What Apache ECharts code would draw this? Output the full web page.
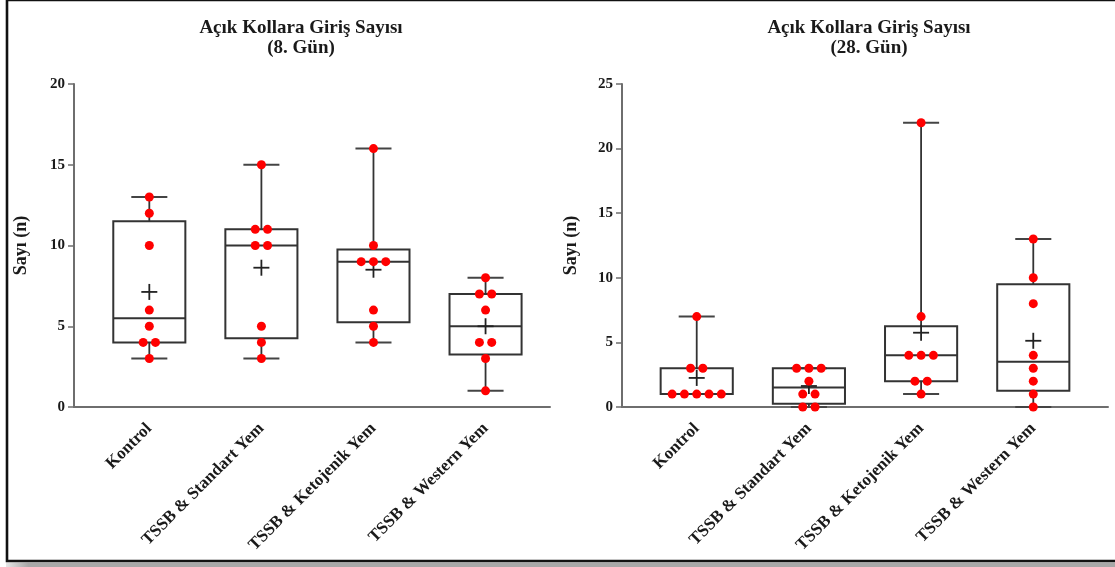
<!DOCTYPE html>
<html>
<head>
<meta charset="utf-8">
<script src="https://cdn.jsdelivr.net/npm/echarts@6/dist/echarts.min.js"></script>
<style>
  html, body { margin: 0; padding: 0; background: #fff; }
  #chart { width: 1115px; height: 567px; }
</style>
</head>
<body>
<div id="chart"></div>
<script>
// Groups shown on both panels
const categories = ['Kontrol', 'TSSB & Standart Yem', 'TSSB & Ketojenik Yem', 'TSSB & Western Yem'];

// Day 8: individual counts per group
const gun8Points = [
  [13, 12, 10, 6, 5, 4, 4, 3],
  [15, 11, 11, 10, 10, 5, 4, 3],
  [16, 10, 9, 9, 9, 6, 5, 4],
  [8, 7, 7, 6, 4, 4, 3, 1]
];
// Day 8: [min, Q1, median, Q3, max]
const gun8Box = [
  [3, 4, 5.5, 11.5, 13],
  [3, 4.25, 10, 11, 15],
  [4, 5.25, 9, 9.75, 16],
  [1, 3.25, 5, 7, 8]
];
const gun8Mean = [7.125, 8.625, 8.5, 5];

// Day 28: individual counts per group
const gun28Points = [
  [7, 3, 3, 1, 1, 1, 1, 1],
  [3, 3, 3, 2, 1, 1, 0, 0],
  [22, 7, 4, 4, 4, 2, 2, 1],
  [13, 10, 8, 4, 3, 2, 1, 0]
];
// Day 28: [min, Q1, median, Q3, max]
const gun28Box = [
  [1, 1, 1, 3, 7],
  [0, 0.25, 1.5, 3, 3],
  [1, 2, 4, 6.25, 22],
  [0, 1.25, 3.5, 9.5, 13]
];
const gun28Mean = [2.25, 1.625, 5.75, 5.125];

// Axis tick values
const yTicks8 = { min: 0, max: 20, interval: 5 };
const yTicks28 = { min: 0, max: 25, interval: 5 };

const FONT = "'Liberation Serif', 'Times New Roman', serif";
const INK = '#1a1a1a';
const LINE = '#333';
const AXIS = '#6e6e6e';
const DOT_GAP = 12.3;

function boxData(box, mean) {
  return box.map((b, i) => [i, b[0], b[1], b[2], b[3], b[4], mean[i]]);
}

// Dots sharing a value are spread side by side around the group centre
function pointData(points) {
  const out = [];
  points.forEach((vals, gi) => {
    const counts = {};
    vals.forEach(v => { counts[v] = (counts[v] || 0) + 1; });
    const seen = {};
    vals.forEach(v => {
      const k = seen[v] || 0;
      seen[v] = k + 1;
      out.push([gi, v, (k - (counts[v] - 1) / 2) * DOT_GAP]);
    });
  });
  return out;
}

function renderBox(params, api) {
  const x = api.value(0);
  const band = api.size([1, 0])[0];
  const bw = band * 0.643;
  const cap = bw * 0.5;
  const pMin = api.coord([x, api.value(1)]);
  const pQ1 = api.coord([x, api.value(2)]);
  const pMed = api.coord([x, api.value(3)]);
  const pQ3 = api.coord([x, api.value(4)]);
  const pMax = api.coord([x, api.value(5)]);
  const pMean = api.coord([x, api.value(6)]);
  const cx = pMed[0];
  const st = { stroke: LINE, lineWidth: 1.8, fill: null };
  const ln = (x1, y1, x2, y2, style) => ({
    type: 'line', shape: { x1, y1, x2, y2 }, style: style || st
  });
  const pm = 8;
  return {
    type: 'group',
    children: [
      ln(cx, pMax[1], cx, pQ3[1]),
      ln(cx, pQ1[1], cx, pMin[1]),
      ln(cx - cap / 2, pMax[1], cx + cap / 2, pMax[1], { stroke: '#444', lineWidth: 2 }),
      ln(cx - cap / 2, pMin[1], cx + cap / 2, pMin[1], { stroke: '#444', lineWidth: 2 }),
      {
        type: 'rect',
        shape: { x: cx - bw / 2, y: pQ3[1], width: bw, height: pQ1[1] - pQ3[1] },
        style: { stroke: LINE, lineWidth: 2, fill: null }
      },
      ln(cx - bw / 2, pMed[1], cx + bw / 2, pMed[1], { stroke: LINE, lineWidth: 2 }),
      ln(pMean[0] - pm, pMean[1], pMean[0] + pm, pMean[1], { stroke: '#222', lineWidth: 1.8 }),
      ln(pMean[0], pMean[1] - pm, pMean[0], pMean[1] + pm, { stroke: '#222', lineWidth: 1.8 })
    ]
  };
}

function renderDot(params, api) {
  const p = api.coord([api.value(0), api.value(1)]);
  return {
    type: 'circle',
    shape: { cx: p[0] + api.value(2), cy: p[1], r: 4.5 },
    style: { fill: '#ff0000' }
  };
}

function xAxisFor(gridIndex, min, max) {
  return {
    type: 'value', gridIndex, min, max,
    splitLine: { show: false },
    axisTick: { show: false },
    axisLine: { show: true, onZero: false, lineStyle: { color: AXIS, width: 2 } },
    axisLabel: {
      customValues: [0, 1, 2, 3],
      formatter: v => (Number.isInteger(v) && categories[v]) ? categories[v] : '',
      rotate: 45, margin: 19,
      fontFamily: FONT, fontWeight: 'bold', fontSize: 17, color: INK
    }
  };
}

function yAxisFor(gridIndex, ticks, nameGap) {
  return {
    type: 'value', gridIndex,
    min: ticks.min, max: ticks.max, interval: ticks.interval,
    splitLine: { show: false },
    axisLine: { show: true, onZero: false, lineStyle: { color: AXIS, width: 2 } },
    axisTick: { show: true, length: 6, lineStyle: { color: AXIS, width: 1.5 } },
    axisLabel: { margin: 9, fontFamily: FONT, fontWeight: 'bold', fontSize: 15, color: INK },
    name: 'Sayı (n)', nameLocation: 'middle', nameGap,
    nameTextStyle: { fontFamily: FONT, fontWeight: 'bold', fontSize: 18, color: INK }
  };
}

const chart = echarts.init(document.getElementById('chart'), null, { renderer: 'canvas' });

chart.setOption({
  animation: false,
  backgroundColor: '#fff',
  title: [
    {
      text: 'Açık Kollara Giriş Sayısı\n(8. Gün)',
      left: 296, top: 13, textAlign: 'center',
      textStyle: { fontFamily: FONT, fontWeight: 'bold', fontSize: 19, lineHeight: 20, color: INK }
    },
    {
      text: 'Açık Kollara Giriş Sayısı\n(28. Gün)',
      left: 864, top: 13, textAlign: 'center',
      textStyle: { fontFamily: FONT, fontWeight: 'bold', fontSize: 19, lineHeight: 20, color: INK }
    }
  ],
  grid: [
    { left: 74, top: 84, width: 476, height: 323 },
    { left: 622, top: 84, width: 486, height: 323 }
  ],
  xAxis: [
    xAxisFor(0, -0.672, 3.575),
    xAxisFor(1, -0.666, 3.666)
  ],
  yAxis: [
    yAxisFor(0, yTicks8, 44),
    yAxisFor(1, yTicks28, 42)
  ],
  series: [
    {
      type: 'custom', xAxisIndex: 0, yAxisIndex: 0,
      renderItem: renderBox, data: boxData(gun8Box, gun8Mean),
      encode: { x: 0, y: [1, 2, 3, 4, 5, 6] }, clip: false, z: 2
    },
    {
      type: 'custom', xAxisIndex: 0, yAxisIndex: 0,
      renderItem: renderDot, data: pointData(gun8Points),
      encode: { x: 0, y: 1 }, clip: false, z: 3
    },
    {
      type: 'custom', xAxisIndex: 1, yAxisIndex: 1,
      renderItem: renderBox, data: boxData(gun28Box, gun28Mean),
      encode: { x: 0, y: [1, 2, 3, 4, 5, 6] }, clip: false, z: 2
    },
    {
      type: 'custom', xAxisIndex: 1, yAxisIndex: 1,
      renderItem: renderDot, data: pointData(gun28Points),
      encode: { x: 0, y: 1 }, clip: false, z: 3
    }
  ],
  graphic: [
    {
      type: 'rect', silent: true, z: 100,
      shape: { x: 7, y: 0, width: 1130, height: 561 },
      style: { fill: null, stroke: '#111', lineWidth: 2.6 }
    },
    {
      type: 'rect', silent: true, z: 99,
      shape: { x: 6, y: 562.5, width: 1115, height: 5 },
      style: {
        fill: new echarts.graphic.LinearGradient(0, 0, 1, 0, [
          { offset: 0, color: '#e6e6e6' },
          { offset: 0.02, color: '#a8a8a8' },
          { offset: 1, color: '#a8a8a8' }
        ])
      }
    }
  ]
});
</script>
</body>
</html>
